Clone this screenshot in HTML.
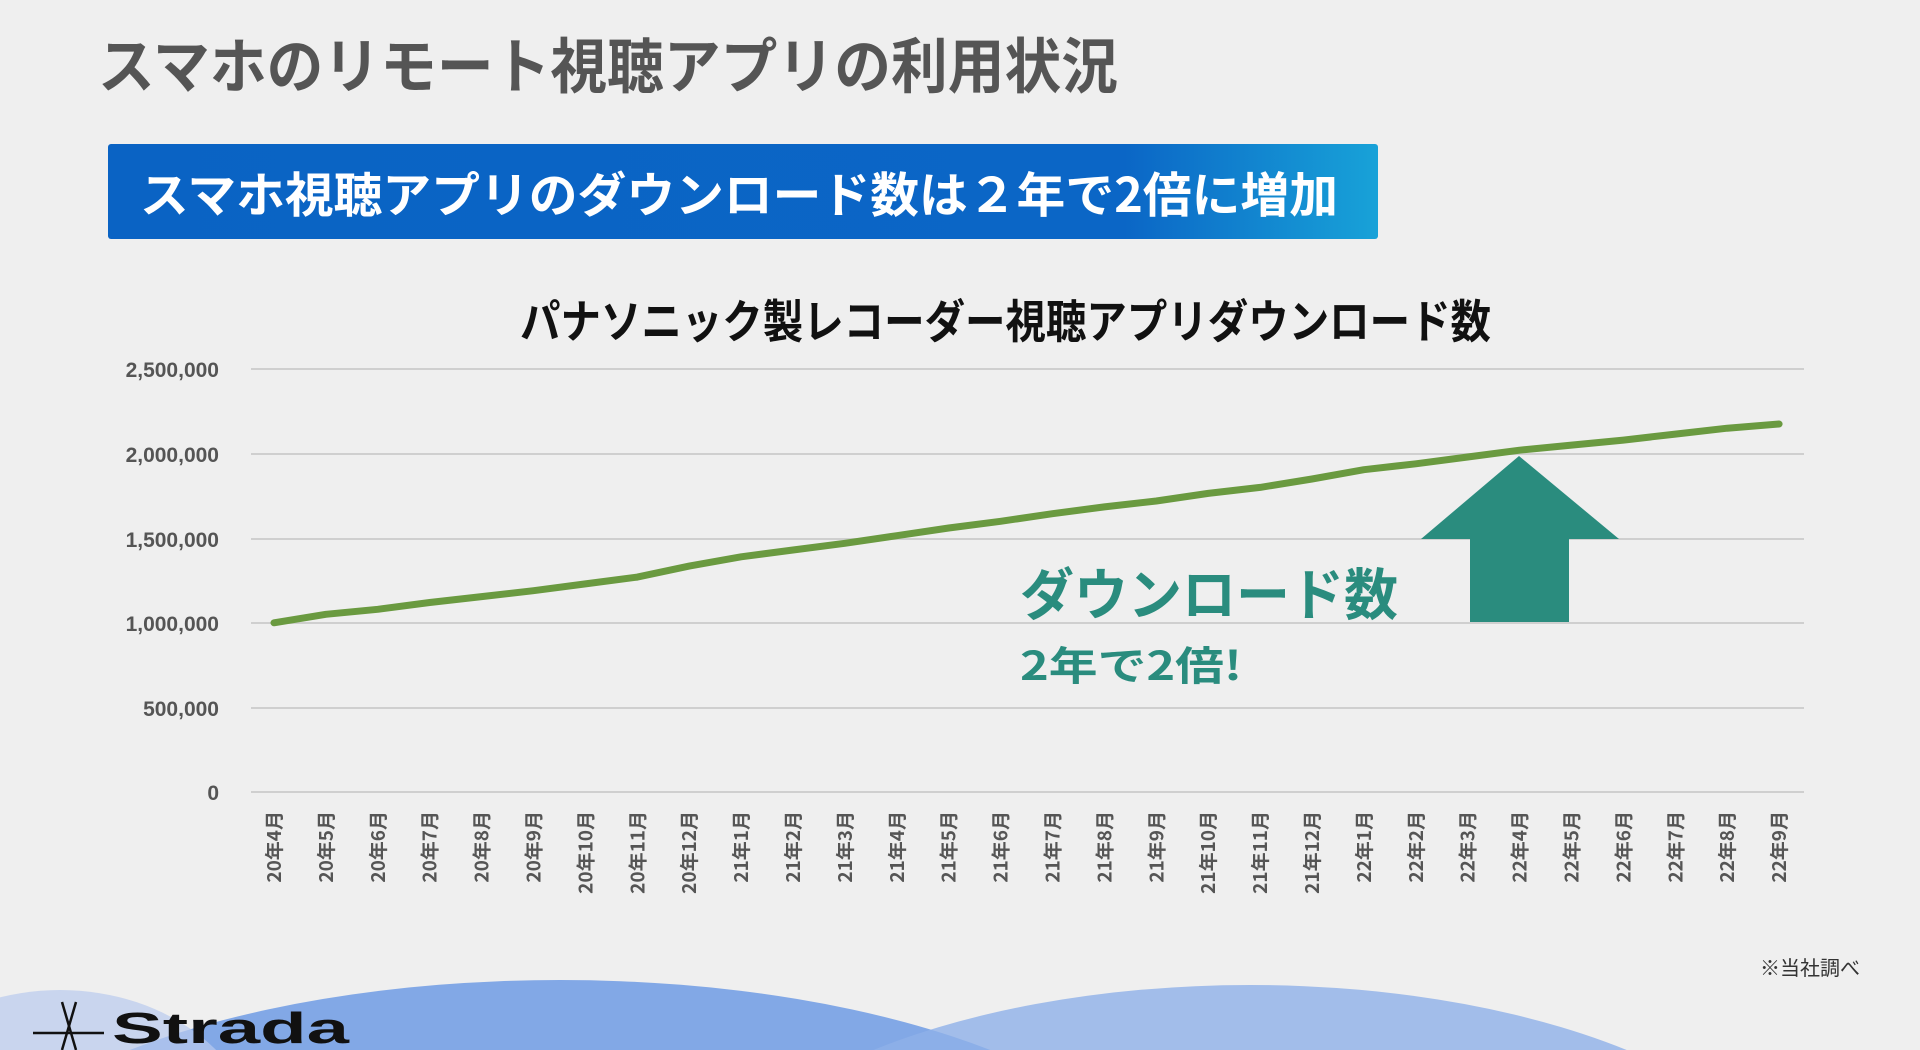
<!DOCTYPE html>
<html><head><meta charset="utf-8"><style>
html,body{margin:0;padding:0;width:1920px;height:1050px;overflow:hidden;background:#efefef;font-family:"Liberation Sans","Noto Sans CJK JP",sans-serif}
svg{display:block}
</style></head><body>
<svg width="1920" height="1050" xmlns="http://www.w3.org/2000/svg" style="position:absolute;left:0;top:0">
<defs>
<linearGradient id="bx" x1="0" x2="1" y1="0" y2="0">
<stop offset="0" stop-color="#0a63c4"/><stop offset="0.8" stop-color="#0b66c6"/><stop offset="1" stop-color="#18a2d8"/></linearGradient>
</defs>
<rect width="1920" height="1050" fill="#efefef"/>
<ellipse cx="560" cy="1230" rx="620" ry="250" fill="#6f9be4" opacity="0.85"/>
<ellipse cx="1250" cy="1235" rx="560" ry="250" fill="#8fb0e8" opacity="0.8"/>
<ellipse cx="900" cy="1300" rx="350" ry="250" fill="#4f86dc" opacity="0.6"/>
<ellipse cx="1850" cy="1250" rx="300" ry="200" fill="#a9c1ec" opacity="0.7"/>
<ellipse cx="60" cy="1150" rx="200" ry="160" fill="#b9cbee" opacity="0.7"/>
<text x="98" y="88" font-size="60" font-weight="bold" fill="#555" textLength="1020" lengthAdjust="spacingAndGlyphs" style="font-family:'Noto Sans CJK JP',sans-serif">スマホのリモート視聴アプリの利用状況</text>
<rect x="108" y="144" width="1270" height="95" rx="3" fill="url(#bx)"/>
<text x="140" y="212" font-size="48" font-weight="bold" fill="#fff" textLength="1198" lengthAdjust="spacingAndGlyphs" style="font-family:'Noto Sans CJK JP',sans-serif">スマホ視聴アプリのダウンロード数は２年で2倍に増加</text>
<text x="520" y="338" font-size="46" font-weight="bold" fill="#111" textLength="971" lengthAdjust="spacingAndGlyphs" style="font-family:'Noto Sans CJK JP',sans-serif">パナソニック製レコーダー視聴アプリダウンロード数</text>
<g stroke="#cfcfcf" stroke-width="2">
<line x1="251" x2="1804" y1="369" y2="369"/><line x1="251" x2="1804" y1="454" y2="454"/><line x1="251" x2="1804" y1="539" y2="539"/><line x1="251" x2="1804" y1="623" y2="623"/><line x1="251" x2="1804" y1="708" y2="708"/><line x1="251" x2="1804" y1="792" y2="792"/>
</g>
<g font-size="21" font-weight="bold" fill="#555" text-anchor="end">
<text x="219" y="377">2,500,000</text><text x="219" y="462">2,000,000</text><text x="219" y="547">1,500,000</text><text x="219" y="631">1,000,000</text><text x="219" y="716">500,000</text><text x="219" y="800">0</text>
</g>
<g id="xl" font-size="19" font-weight="bold" fill="#555" text-anchor="end" style="font-family:'Noto Sans CJK JP',sans-serif"></g>
<polyline id="ln" fill="none" stroke="#6a9a40" stroke-width="7" stroke-linecap="round" stroke-linejoin="round"/>
<polygon points="1519,456 1619,539 1569,539 1569,622 1470,622 1470,539 1421,539" fill="#2a8c7e"/>
<text x="1020" y="615" font-size="56" font-weight="bold" fill="#2a8c7e" textLength="378" lengthAdjust="spacingAndGlyphs" style="font-family:'Noto Sans CJK JP',sans-serif">ダウンロード数</text>
<text x="1020" y="680" font-size="40" font-weight="bold" fill="#2a8c7e" textLength="222" lengthAdjust="spacingAndGlyphs" style="font-family:'Noto Sans CJK JP',sans-serif">2年で2倍!</text>
<text x="1760" y="975" font-size="20" fill="#333" style="font-family:'Noto Sans CJK JP',sans-serif">※当社調べ</text>
<g stroke="#111" stroke-width="2.5"><line x1="62" y1="1002" x2="76" y2="1050"/><line x1="76" y1="1002" x2="62" y2="1050"/><line x1="33" y1="1033" x2="104" y2="1033"/></g>
<text x="112" y="1043" font-size="44" font-weight="bold" fill="#111" textLength="237" lengthAdjust="spacingAndGlyphs">Strada</text>
</svg>
<script>
var ns="http://www.w3.org/2000/svg";
var v=[1.0,1.05,1.08,1.12,1.155,1.19,1.23,1.27,1.335,1.39,1.43,1.47,1.515,1.56,1.60,1.645,1.685,1.72,1.765,1.80,1.85,1.905,1.94,1.98,2.02,2.05,2.08,2.115,2.15,2.175];
var pts=[],g=document.getElementById('xl');
for(var i=0;i<30;i++){var x=274+i*51.9;pts.push(x.toFixed(1)+","+(792-v[i]*169.2).toFixed(1));
var m=4+i,y=20+Math.floor((m-1)/12);m=(m-1)%12+1;
var t=document.createElementNS(ns,'text');t.setAttribute('transform','translate('+(x+7)+',811) rotate(-90)');t.textContent=y+'年'+m+'月';g.appendChild(t);}
document.getElementById('ln').setAttribute('points',pts.join(' '));
</script>
</body></html>
